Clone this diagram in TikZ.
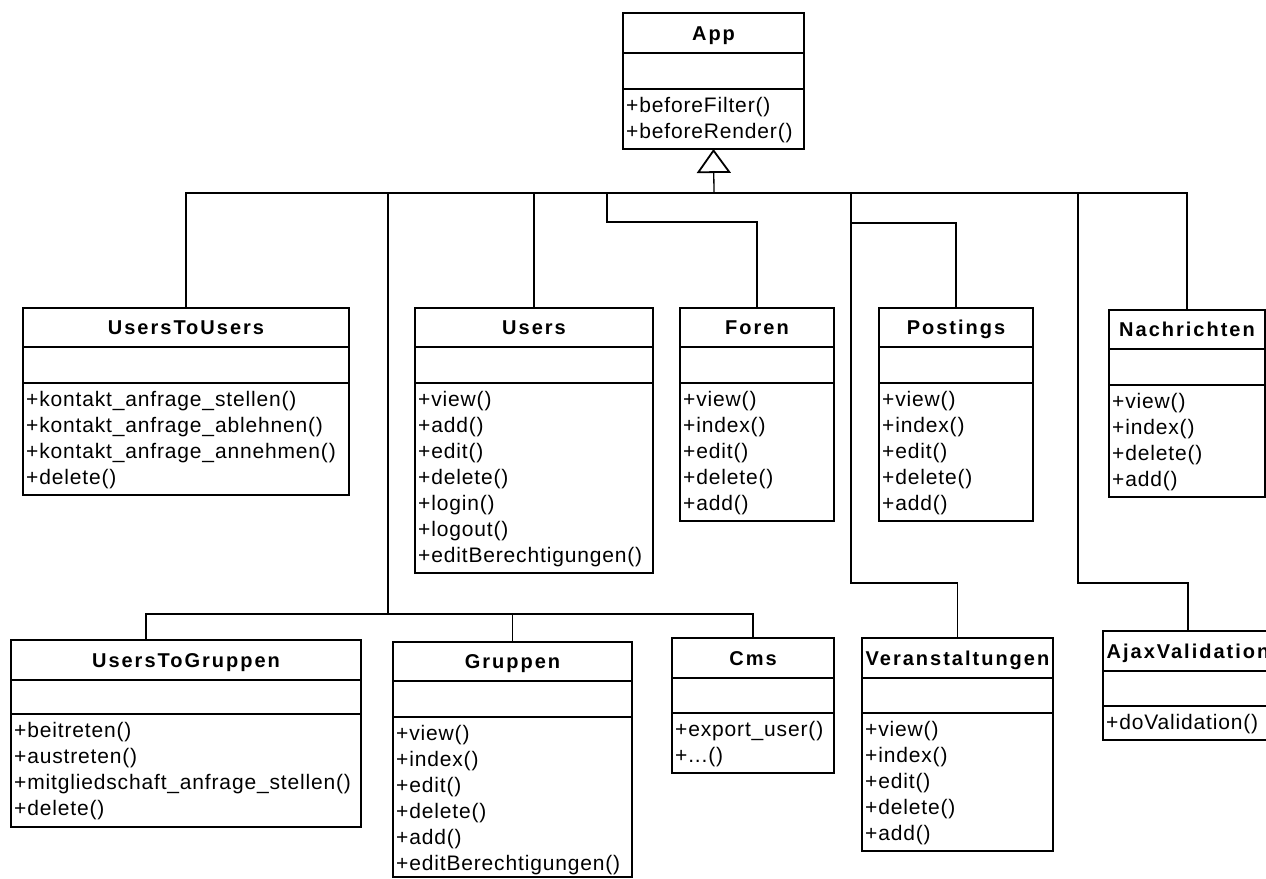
\documentclass[tikz,border=0pt]{standalone}
\usepackage{fontspec}
\newfontfamily\titlefont[LetterSpace=10]{Liberation Sans}
\newfontfamily\methfont[LetterSpace=4]{Liberation Sans}
\usetikzlibrary{arrows.meta}

\newcommand{\threedots}{...}

\tikzset{
  classbox/.style={draw, line width=1.8pt, inner sep=0pt, outer sep=0pt, anchor=north west},
  divider/.style={line width=1.8pt},
  link/.style={line width=1.3pt},
  titletext/.style={font=\titlefont\bfseries\fontsize{20}{24}\selectfont, inner sep=0pt, anchor=base},
  methtext/.style={font=\methfont\fontsize{21}{25}\selectfont, inner sep=0pt, anchor=base west},
}

% UML class: id, left, top, right, name divider, attribute divider, bottom, title, methods
\newcommand{\umlclass}[9]{%
  \pgfmathsetmacro\cw{#4-#2}%
  \pgfmathsetmacro\ch{#7-#3}%
  \node[classbox, minimum width=\cw pt, minimum height=\ch pt] (#1) at (#2,#3) {};
  \draw[divider] (#2,#5) -- (#4,#5);
  \draw[divider] (#2,#6) -- (#4,#6);
  \node[titletext] (#1-title) at ({(#2+#4)/2},{(#3+#5)/2+7}) {#8};
  \foreach \m [count=\i from 0] in {#9}
    \node[methtext] (#1-m\i) at (#2+3,{#6+16+26*\i+7.5}) {\m};
}

\begin{document}
\begin{tikzpicture}[x=1pt,y=-1pt]
\clip (0,0) rectangle (1266,878);
\fill[white] (0,0) rectangle (1266,878);

% classes
\umlclass{app}{623}{13}{804}{53}{89}{149}{App}{+beforeFilter(),+beforeRender()}
\umlclass{u2u}{23}{308}{349}{347}{383}{495}{UsersToUsers}%
  {+kontakt\_anfrage\_stellen(),+kontakt\_anfrage\_ablehnen(),+kontakt\_anfrage\_annehmen(),+delete()}
\umlclass{users}{415}{308}{653}{347}{383}{573}{Users}%
  {+view(),+add(),+edit(),+delete(),+login(),+logout(),+editBerechtigungen()}
\umlclass{foren}{680}{308}{834}{347}{383}{521}{Foren}%
  {+view(),+index(),+edit(),+delete(),+add()}
\umlclass{postings}{879}{308}{1033}{347}{383}{521}{Postings}%
  {+view(),+index(),+edit(),+delete(),+add()}
\umlclass{nach}{1109}{310}{1265}{349}{385}{497}{Nachrichten}%
  {+view(),+index(),+delete(),+add()}
\umlclass{u2g}{11}{640}{361}{680}{714}{827}{UsersToGruppen}%
  {+beitreten(),+austreten(),+mitgliedschaft\_anfrage\_stellen(),+delete()}
\umlclass{gruppen}{393}{642}{632}{681}{717}{877}{Gruppen}%
  {+view(),+index(),+edit(),+delete(),+add(),+editBerechtigungen()}
\umlclass{cms}{672}{638}{834}{678}{713}{773}{Cms}%
  {+export\_user(),+\threedots()}
\umlclass{veran}{862}{638}{1053}{678}{713}{851}{Veranstaltungen}%
  {+view(),+index(),+edit(),+delete(),+add()}
\umlclass{ajax}{1103}{631}{1273}{671}{706}{740}{AjaxValidation}%
  {+doValidation()}

% generalisation tree
\coordinate (hub) at (714,193);
\draw[link, -{Triangle[open, length=24pt, width=34pt, line width=1.8pt]}] (hub) -- (app.south);
\draw[link] (u2u.north) |- (hub) -| (nach.north);
\draw[link] (users.north) -- (users.north |- hub);

\coordinate (busA) at (388,193);
\coordinate (busB) at (388,614);
\draw[link] (busA) -- (busB);
\draw[link] ([xshift=-40pt]u2g.north) |- (busB) -| (cms.north);
\draw[link] (gruppen.north) -- (gruppen.north |- busB);

\coordinate (forenA) at (607,193);
\coordinate (forenB) at (607,222);
\draw[link] (forenA) -- (forenB) -| (foren.north);

\coordinate (postA) at (851,193);
\coordinate (postB) at (851,223);
\coordinate (postC) at (851,583);
\draw[link] (postA) -- (postC) -| (veran.north);
\draw[link] (postB) -| (postings.north);

\coordinate (ajaxA) at (1078,193);
\coordinate (ajaxB) at (1078,583);
\draw[link] (ajaxA) -- (ajaxB) -| (ajax.north);
\end{tikzpicture}
\end{document}
